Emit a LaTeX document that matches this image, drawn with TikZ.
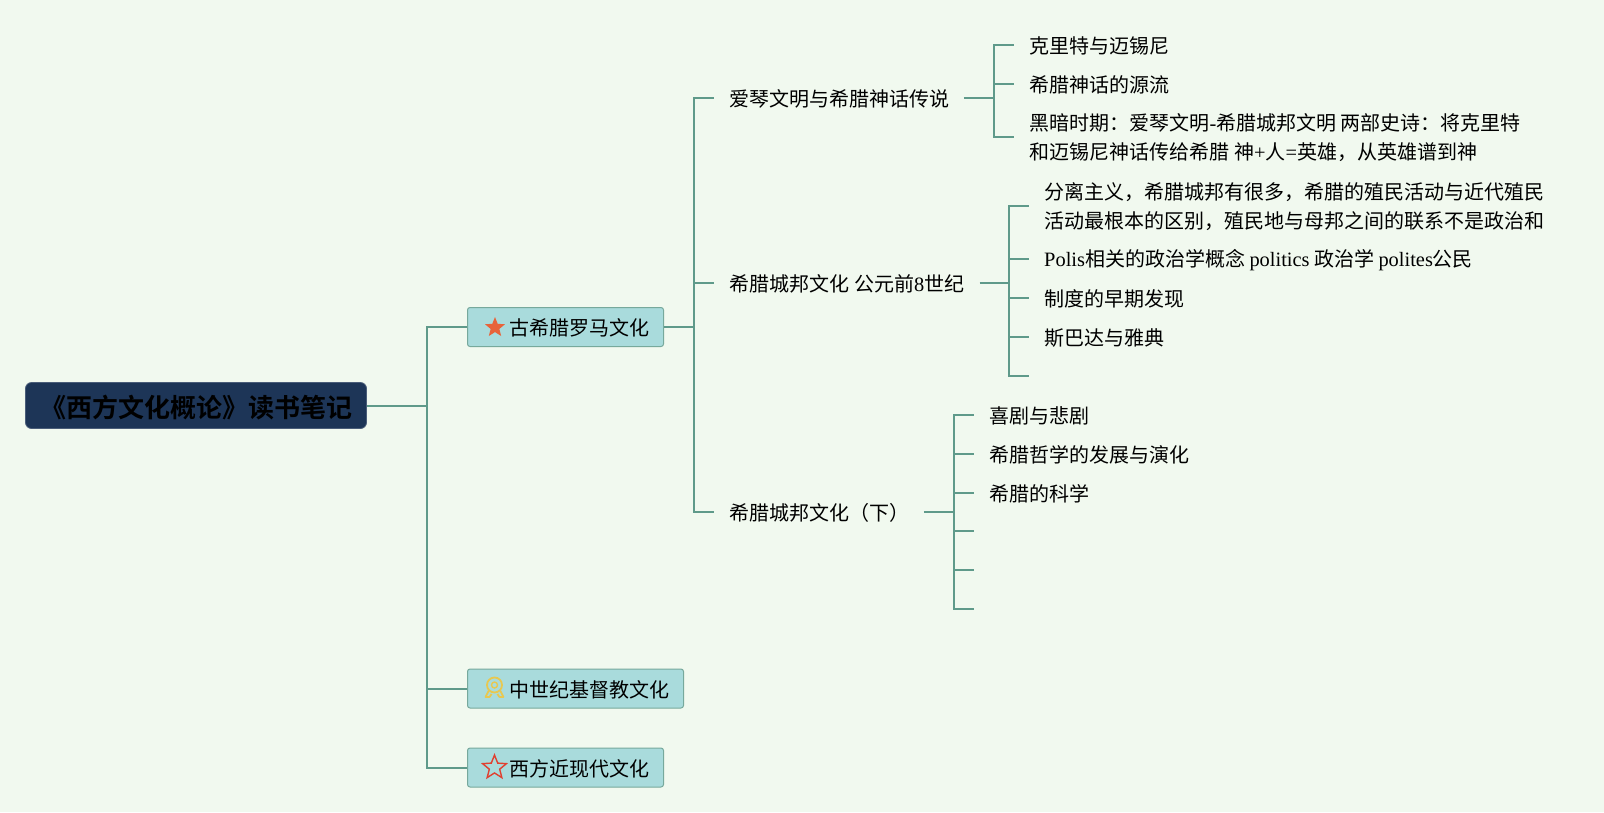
\documentclass[tikz,border=0pt]{standalone}
\usepackage{fontspec}
\setmainfont{Noto Sans CJK SC}[BoldFont={Noto Sans CJK SC Bold}]
\newfontfamily\latfont{Liberation Serif}[Scale=1.02]
\newcommand{\la}[1]{{\latfont #1}}
\newcommand{\dropby}[2]{\raisebox{-#1}[\height][\depth]{#2}}
\usetikzlibrary{shapes.geometric}
\definecolor{bgc}{HTML}{F1F9EF}
\definecolor{linec}{HTML}{5F9A8A}
\definecolor{boxc}{HTML}{A9DBDC}
\definecolor{rootc}{HTML}{1D3557}
\definecolor{staro}{HTML}{E8633A}
\definecolor{stary}{HTML}{E8C850}
\definecolor{starr}{HTML}{E04030}
\tikzset{
  conn/.style={draw=linec,line width=2pt,line cap=butt,line join=miter},
  rootbox/.style={draw=rootc!80!white,line width=.8pt,fill=rootc,rounded corners=6pt,text=black,font=\fontsize{26}{30}\selectfont\bfseries,minimum width=341pt,minimum height=46pt,inner sep=0pt},
  topicbox/.style={draw=linec!85!white,line width=1pt,fill=boxc,rounded corners=2.5pt,text=black,font=\fontsize{20}{29}\selectfont,minimum height=39pt,inner sep=0pt,anchor=west,align=left},
  leaf/.style={anchor=west,align=left,inner xsep=16pt,inner ysep=0pt,text=black,font=\fontsize{20}{29}\selectfont},
  staricon/.style={star,star points=5,star point ratio=2.3,inner sep=0pt},
  medal/.style={circle,draw=stary,inner sep=0pt},
  ribbon/.style={draw=stary,line width=1.8pt,line join=round},
}
\begin{document}
\begin{tikzpicture}[x=1pt,y=-1pt]
\useasboundingbox (0,0) rectangle (1604,812);
\fill[bgc] (0,0) rectangle (1604,812);
% root and main boxes
\node[rootbox] (root) at (196,405.5) {\dropby{2pt}{\hspace*{1pt}《西方文化概论》读书笔记}};
\node[topicbox,minimum width=196pt,text width=196pt] (b1) at (467,327) {\hspace*{42pt}\dropby{1pt}{古希腊罗马文化}};
\node[topicbox,minimum width=216pt,text width=216pt] (b2) at (467,688.5) {\hspace*{42pt}\dropby{1pt}{中世纪基督教文化}};
\node[topicbox,minimum width=196pt,text width=196pt] (b3) at (467,767.5) {\hspace*{42pt}\dropby{1pt}{西方近现代文化}};
% icons
\node[staricon,fill=staro,draw=none,minimum size=21pt] (ic1) at (495,327.5) {};
\node[medal,line width=1.8pt,minimum size=15pt] (ic2) at (494.5,685) {};
\node[medal,line width=1.4pt,minimum size=6pt] (ic2b) at (494.5,685) {};
\draw[ribbon] (ic2.south west) -- ++(-3,6) -- ++(4,0) -- ++(2,-3);
\draw[ribbon] (ic2.south east) -- ++(3,6) -- ++(-4,0) -- ++(-2,-3);
\node[staricon,draw=starr,line width=1.4pt,fill=none,minimum size=25pt] (ic3) at (494.5,767.5) {};
% second level
\node[leaf] (a1) at (713.5,99) {爱琴文明与希腊神话传说};
\node[leaf] (a2) at (713.5,284) {希腊城邦文化 公元前\la{8}世纪};
\node[leaf] (a3) at (713.5,513) {希腊城邦文化（下）};
% first group
\node[leaf] (c1) at (1013.5,45.5) {克里特与迈锡尼};
\node[leaf] (c2) at (1013.5,84.5) {希腊神话的源流};
\node[leaf] (c3) at (1013.5,138) {黑暗时期：爱琴文明\la{-}希腊城邦文明 两部史诗：将克里特\\和迈锡尼神话传给希腊 神\la{+}人\la{=}英雄，从英雄谱到神};
% second group
\node[leaf] (d1) at (1028,206.5) {分离主义，希腊城邦有很多，希腊的殖民活动与近代殖民\\活动最根本的区别，殖民地与母邦之间的联系不是政治和};
\node[leaf] (d2) at (1028,260) {\la{Polis}相关的政治学概念 \la{politics} 政治学 \la{polites}公民};
\node[leaf] (d3) at (1028,299) {制度的早期发现};
\node[leaf] (d4) at (1028,338) {斯巴达与雅典};
\coordinate (d5) at (1029,375.5);
% third group
\node[leaf] (e1) at (973,415.5) {喜剧与悲剧};
\node[leaf] (e2) at (973,454.5) {希腊哲学的发展与演化};
\node[leaf] (e3) at (973,493.5) {希腊的科学};
\coordinate (e4) at (974,531);
\coordinate (e5) at (974,570);
\coordinate (e6) at (974,609);
% trunks
\coordinate (t0) at (427,405.5);
\coordinate (t1) at (693.5,327);
\coordinate (t2) at (993.5,98);
\coordinate (t3) at (1009,283);
\coordinate (t4) at (954,512);
% connectors
\draw[conn] (root.east) -- (t0);
\foreach \n in {b1,b2,b3} \draw[conn] (t0) |- (\n.west);
\draw[conn] (b1.east) -- (t1);
\foreach \n in {a1,a2,a3} \draw[conn] (t1) |- ([yshift=1pt]\n.west);
\draw[conn] ([xshift=-2pt,yshift=1pt]a1.east) -- (t2);
\foreach \n in {c1,c2,c3} \draw[conn] (t2) |- ([yshift=1pt]\n.west);
\draw[conn] ([xshift=-1pt,yshift=1pt]a2.east) -- (t3);
\foreach \n in {d1,d2,d3,d4} \draw[conn] (t3) |- ([xshift=1pt,yshift=1pt]\n.west);
\draw[conn] (t3) |- (d5);
\draw[conn] ([xshift=-2pt,yshift=1pt]a3.east) -- (t4);
\foreach \n in {e1,e2,e3} \draw[conn] (t4) |- ([xshift=1pt,yshift=1pt]\n.west);
\foreach \n in {e4,e5,e6} \draw[conn] (t4) |- (\n);
\end{tikzpicture}
\end{document}
